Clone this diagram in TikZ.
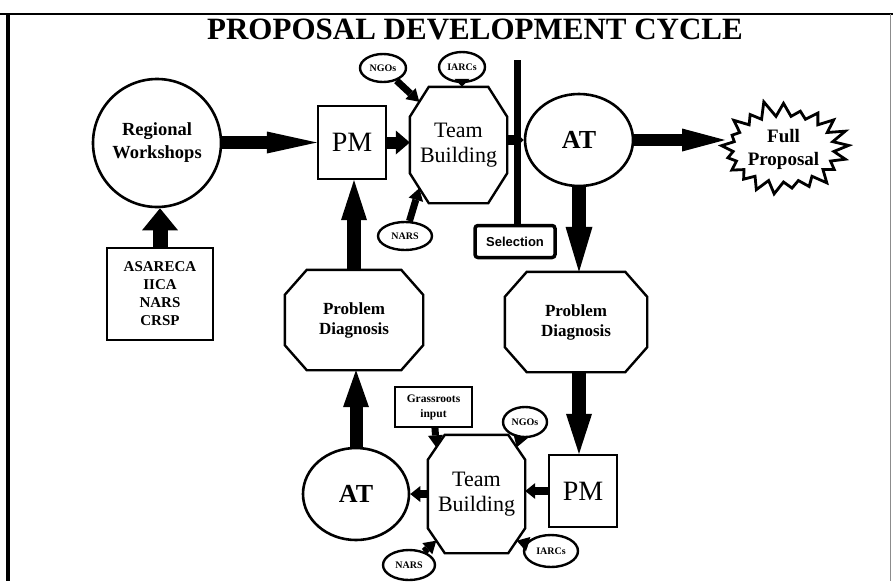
\documentclass[tikz,border=0pt]{standalone}
\usepackage{fontspec}
\setmainfont{Liberation Serif}
\newfontfamily\selfont{Liberation Sans}
\usetikzlibrary{arrows.meta,shapes.geometric,shapes.symbols,calc}
\newcommand\octagonpath[3]{%
  \draw[line width=2.4pt, line join=miter] ([xshift=#2pt]#1.north west) -- ([xshift=-#2pt]#1.north east) -- ([yshift=-#3pt]#1.north east) -- ([yshift=#3pt]#1.south east) -- ([xshift=-#2pt]#1.south east) -- ([xshift=#2pt]#1.south west) -- ([yshift=#3pt]#1.south west) -- ([yshift=-#3pt]#1.north west) -- cycle;
  \coordinate (#1-nw) at ([xshift=0.5*#2pt,yshift=-0.5*#3pt]#1.north west);
  \coordinate (#1-ne) at ([xshift=-0.5*#2pt,yshift=-0.5*#3pt]#1.north east);
  \coordinate (#1-sw) at ([xshift=0.5*#2pt,yshift=0.5*#3pt]#1.south west);
  \coordinate (#1-se) at ([xshift=-0.5*#2pt,yshift=0.5*#3pt]#1.south east);
}
\begin{document}
\begin{tikzpicture}[x=1pt,y=-1pt,
  oct/.style={rectangle, inner sep=0pt, align=center},
  box/.style={rectangle, draw, line width=2.2pt, inner sep=0pt, align=center},
  circ/.style={ellipse, draw, line width=2.6pt, inner sep=0pt, align=center},
  small/.style={ellipse, draw, line width=2.4pt, inner sep=0pt, font=\fontsize{10}{10}\selectfont\bfseries},
  blk/.style n args={3}{line width=#1pt,-{Triangle[length=#2pt,width=#3pt,line width=0pt]}},
  bigtxt/.style={font=\fontsize{28}{28}\selectfont},
  attxt/.style={font=\fontsize{26}{26}\selectfont\bfseries},
  tbtxt/.style={font=\fontsize{22}{25}\selectfont},
  pdtxt/.style={font=\fontsize{17}{20}\selectfont\bfseries}
]
\useasboundingbox (0,0) rectangle (893,581);
% frame
\draw[line width=4pt] (7.5,14) -- (7.5,581);
\draw[line width=2.5pt] (0,14) -- (893,14);
\draw[line width=0.8pt, black!45] (890,14) -- (890,581);
% title
\node (title) at (475,29.5) {\fontsize{31}{31}\selectfont\bfseries PROPOSAL DEVELOPMENT CYCLE};

% left column
\node[circ, minimum width=128pt, minimum height=128pt, font=\fontsize{18.5}{23}\selectfont\bfseries] (rw) at (157,143) {Regional\\Workshops};
\node[box, minimum width=106pt, minimum height=92pt, font=\fontsize{15}{18}\selectfont\bfseries] (asa) at (160,294) {ASARECA\\IICA\\NARS\\CRSP};

% top row
\node[box, minimum width=68pt, minimum height=73pt, bigtxt] (pm1) at (352,142.5) {PM};
\node[oct, minimum width=97pt, minimum height=116pt, tbtxt] (tb1) at (458.5,145) {Team\\Building};
\octagonpath{tb1}{19}{30}
\node[small, minimum width=46pt, minimum height=28pt] (ngo1) at (383,68) {NGOs};
\node[small, minimum width=46pt, minimum height=30pt] (iarc1) at (462,67) {IARCs};
\node[small, minimum width=54pt, minimum height=28pt] (nars1) at (405,236) {NARS};

\node[draw, line width=3.5pt, rounded corners=3pt, minimum width=80pt, minimum height=32pt, inner sep=0pt, font=\selfont\fontsize{13}{13}\selectfont\bfseries] (sel) at (515,241.5) {Selection};
\coordinate (seltop) at (517,60);
\draw[line width=7pt] (seltop) -- (seltop |- sel.north);

\node[circ, minimum width=108pt, minimum height=92pt, attxt] (at1) at (579,140) {AT};
\node[starburst, draw, line width=2.8pt, starburst points=21, starburst point height=17pt, random starburst=11, minimum width=126pt, minimum height=100pt, inner sep=0pt, align=center, font=\fontsize{19}{23}\selectfont\bfseries] (full) at (783.5,149) {Full\\Proposal};

% middle
\node[oct, minimum width=138pt, minimum height=100pt, pdtxt] (pdl) at (354,320) {Problem\\Diagnosis};
\octagonpath{pdl}{22}{25}
\node[oct, minimum width=142pt, minimum height=100pt, pdtxt] (pdr) at (576,322) {Problem\\Diagnosis};
\octagonpath{pdr}{22}{25}

% bottom row
\node[box, minimum width=68pt, minimum height=72pt, bigtxt] (pmb) at (583,491) {PM};
\node[oct, minimum width=97pt, minimum height=118pt, tbtxt] (tb2) at (476.5,494) {Team\\Building};
\octagonpath{tb2}{17}{25}
\node[circ, minimum width=106pt, minimum height=92pt, attxt] (at2) at (356,494) {AT};
\node[box, line width=2pt, minimum width=77pt, minimum height=40pt, font=\fontsize{11.5}{15}\selectfont\bfseries] (grass) at (433.5,407) {Grassroots\\input};
\node[small, minimum width=44pt, minimum height=30pt] (ngo2) at (525,422) {NGOs};
\node[small, minimum width=52pt, minimum height=30pt] (nars2) at (409,565) {NARS};
\node[small, minimum width=54pt, minimum height=32pt] (iarc2) at (551,551) {IARCs};

% connectors
\draw[blk={15}{22}{36}] (asa.north) -- (asa.north |- rw.south);
\draw[blk={13}{50}{22}] (rw.east |- pm1.west) -- (pm1.west);
\draw[blk={12}{14}{24}] (pm1.east) -- (pm1.east -| tb1.west);
\draw[blk={7}{12}{15}] (ngo1) -- (tb1-nw);
\draw[blk={7}{8}{15}] (iarc1.south) -- (iarc1.south |- tb1.north);
\draw[blk={7}{12}{15}] (nars1) -- (tb1-sw);
\draw[blk={10}{9}{18}] (tb1.east |- at1.west) -- (at1.west);
\draw[blk={12}{43}{23}] (at1.east) -- (at1.east -| full.west);
\draw[blk={14}{45}{27}] (at1.south) -- (at1.south |- pdr.north);
\draw[blk={14}{40}{26}] (at1.south |- pdr.south) -- (at1.south |- pmb.north);
\draw[blk={8}{10}{16}] (pmb.west) -- (pmb.west -| tb2.east);
\draw[blk={8}{10}{16}] (tb2.west) -- (tb2.west -| at2.east);
\draw[blk={13}{37}{26}] (at2.north) -- (at2.north |- pdl.south);
\draw[blk={14}{40}{26}] (pdl.north) -- (pdl.north |- pm1.south);
\draw[blk={7}{12}{15}] (grass) -- (tb2-nw);
\draw[blk={7}{12}{15}] (ngo2) -- (tb2-ne);
\draw[blk={7}{12}{15}] (nars2) -- (tb2-sw);
\draw[blk={7}{12}{15}] (iarc2) -- (tb2-se);
\end{tikzpicture}
\end{document}
